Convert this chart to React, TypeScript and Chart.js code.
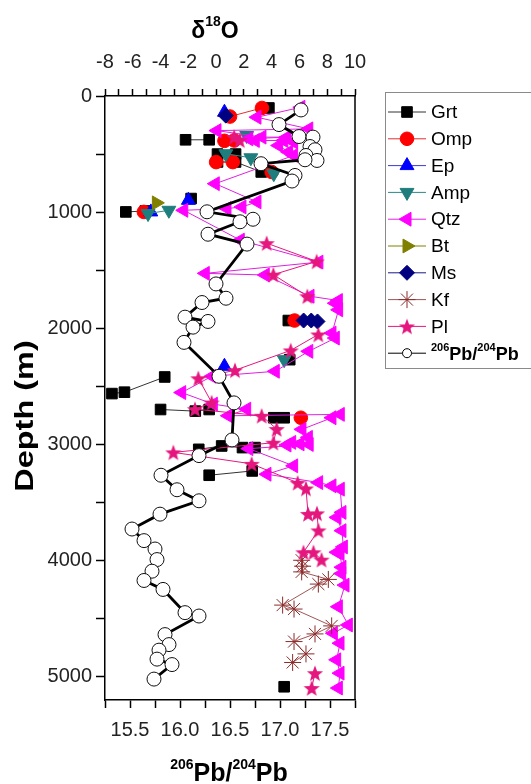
import React, { useEffect, useRef } from 'react';
import { Chart, registerables } from 'chart.js';
import { drawPoint } from 'chart.js/helpers';

Chart.register(...registerables);

const W = 531;
const H = 784;

// ---- axis ticks ----
const topTicks = [-8, -7, -6, -5, -4, -3, -2, -1, 0, 1, 2, 3, 4, 5, 6, 7, 8, 9, 10];
const bottomTicks = [15.25, 15.5, 15.75, 16.0, 16.25, 16.5, 16.75, 17.0, 17.25, 17.5, 17.75];
const bottomLabels = ['', '15.5', '', '16.0', '', '16.5', '', '17.0', '', '17.5', ''];
const depthTicks = [0, 500, 1000, 1500, 2000, 2500, 3000, 3500, 4000, 4500, 5000];
const depthLabels = ['0', '', '1000', '', '2000', '', '3000', '', '4000', '', '5000'];

// ---- data (δ18O values vs depth in m; null = break in line) ----
const grtO = [3.8, null, -2.2, -0.5, null, 0.1, 1.4, null, 0.1, 1.4, 3.25, null, -1.8, null, -6.5, -5.1, null, 5.2, null, 5.3, null, -3.7, -6.6, -7.5, null, -4.0, -1.5, -0.5, null, 4.15, 4.9, null, -1.25, 0.4, 1.9, 2.8, null, 2.6, -0.5, null, 4.9];
const grtDepth = [103, null, 377, 377, null, 500, 500, null, 568, 568, 654, null, 883, null, 998, 990, null, 1933, null, 2270, null, 2419, 2550, 2562, null, 2699, 2713, 2699, null, 2770, 2770, null, 3042, 3013, 3027, 3027, null, 3228, 3265, null, 5086];

const ompO = [3.3, 1.0, null, 0.6, 1.3, null, 0.0, 1.2, null, 4.0, null, -5.2, null, 5.65, null, 6.1];
const ompDepth = [103, 177, null, 386, 383, null, 569, 569, null, 654, null, 998, null, 1933, null, 2770];

const epO = [0.6, null, -2.0, null, -4.7, null, 0.6];
const epDepth = [140, null, 898, null, 998, null, 2327];

const ampO = [2.2, null, 0.7, 2.5, null, 4.15, null, -3.4, -4.9, null, 4.9];
const ampDepth = [340, null, 497, 532, null, 669, null, 984, 1012, null, 2270];

const qtzO = [6.1, 2.94, 6.67, 0.06, 3.30, 5.10, 2.35, 2.82, 4.87, 5.58, 4.50, 5.22, 5.58, -0.06, 2.94, 1.86, 0.78, -2.33, 1.74, 7.4, -0.78, 3.54, 6.76, 8.80, 8.58, 8.82, 8.34, 8.58, 6.67, 4.26, -0.30, -2.48, -0.20, 2.20, 0.88, 8.94, 8.34, 6.18, 6.64, 5.44, 6.04, 5.1, 6.7, 2.35, 5.58, 3.66, 7.38, 8.34, 8.94, 9.06, 8.70, 9.06, 9.16, 8.70, 8.92, 9.06, 9.04, 9.28, 8.80, 9.52, 8.44, 8.92, 8.68, 8.92, 8.80];
const qtzDepth = [97, 183, 283, 298, 354, 354, 369, 383, 383, 397, 426, 483, 512, 755, 912, 955, 969, 984, 1241, 1430, 1527, 1541, 1724, 1761, 1784, 1841, 2041, 2084, 2198, 2370, 2413, 2553, 2653, 2696, 2753, 2741, 2770, 2870, 2939, 2982, 2995, 3005, 3000, 3036, 3184, 3256, 3328, 3356, 3385, 3585, 3628, 3742, 3882, 3928, 3940, 4057, 4111, 4211, 4397, 4554, 4625, 4711, 4854, 4969, 5097];

const btO = [-4.3];
const btDepth = [920];

const msO = [0.7, null, 6.3, 6.85, 7.3];
const msDepth = [169, null, 1933, 1933, 1941];

const kfO = [6.16, 6.23, 6.16, 8.08, 7.36, 4.79, 5.61, 8.32, 7.12, 5.61, 6.47, 5.51];
const kfDepth = [3997, 4048, 4097, 4162, 4202, 4383, 4417, 4562, 4631, 4697, 4803, 4877];

const plO = [1.3, 1.7, null, 3.64, 7.24, 4.12, 6.57, null, 7.36, 5.37, 1.36, -1.28, -0.32, -1.52, 3.28, 4.36, 4.12, -3.08, 2.56, 5.87, 6.47, 6.62, 7.26, 7.37, 6.29, 7.01, 7.59, null, 7.12, 6.88];
const plDepth = [352, 380, null, 1267, 1424, 1538, 1724, null, 2053, 2190, 2361, 2430, 2639, 2696, 2753, 2867, 2985, 3068, 3167, 3330, 3379, 3598, 3593, 3740, 3928, 3928, 3992, null, 4969, 5097];

// 206Pb/204Pb vs depth
const pbRatio = [17.21, 16.99, 17.19, 17.33, 17.30, 17.35, 17.26, 17.37, 17.25, 16.81, 17.15, 17.12, 16.27, 16.73, 16.60, 16.28, 16.67, 16.36, 16.46, 16.22, 16.05, 16.28, 16.13, 16.04, 16.39, 16.54, 16.52, 16.19, 15.81, 15.97, 16.19, 15.80, 15.52, 15.64, 15.75, 15.77, 15.72, 15.64, 15.83, 16.05, 16.19, 15.85, 15.89, 15.79, 15.77, 15.92, 15.74];
const pbDepth = [120, 246, 349, 354, 435, 463, 512, 555, 549, 583, 684, 732, 997, 1061, 1083, 1190, 1275, 1618, 1741, 1778, 1904, 1941, 1990, 2121, 2413, 2642, 2961, 3096, 3265, 3390, 3485, 3600, 3728, 3828, 3900, 3991, 4091, 4171, 4248, 4448, 4477, 4637, 4723, 4771, 4848, 4895, 5020];

const NARROW = '"Liberation Sans Narrow", "Liberation Sans", Arial, sans-serif';
const SANS = '"Liberation Sans", Arial, sans-serif';
const PL_COLOR = '#e5177e';

function toPoints(xs: (number | null)[], ys: (number | null)[]) {
  return xs.map((x, i) => ({ x, y: ys[i] }));
}

function makeStar(color: string) {
  const c = document.createElement('canvas');
  c.width = 18;
  c.height = 18;
  const g = c.getContext('2d')!;
  g.fillStyle = color;
  g.beginPath();
  for (let i = 0; i < 10; i++) {
    const r = i % 2 === 0 ? 8.5 : 3.6;
    const a = -Math.PI / 2 + (i * Math.PI) / 5;
    const px = 9 + r * Math.cos(a);
    const py = 9.8 + r * Math.sin(a);
    if (i === 0) g.moveTo(px, py);
    else g.lineTo(px, py);
  }
  g.closePath();
  g.fill();
  return c;
}

type Part = { t: string; size: number; dy: number };
function drawRich(ctx: CanvasRenderingContext2D, parts: Part[], cx: number, baseline: number) {
  let total = 0;
  for (const p of parts) {
    ctx.font = `bold ${p.size}px ${SANS}`;
    total += ctx.measureText(p.t).width;
  }
  let x = cx - total / 2;
  ctx.textAlign = 'left';
  ctx.textBaseline = 'alphabetic';
  for (const p of parts) {
    ctx.font = `bold ${p.size}px ${SANS}`;
    ctx.fillText(p.t, x, baseline + p.dy);
    x += ctx.measureText(p.t).width;
  }
}

export default function App() {
  const ref = useRef<HTMLCanvasElement>(null);

  useEffect(() => {
    const canvas = ref.current!;
    const star = makeStar(PL_COLOR);

    const series = [
      { label: 'Grt', xs: grtO, ys: grtDepth, style: 'rect', rot: 0, r: 7.5, fill: '#000000', stroke: '#000000', line: '#333333', lw: 1, bw: 1 },
      { label: 'Omp', xs: ompO, ys: ompDepth, style: 'circle', rot: 0, r: 6.8, fill: '#ff0000', stroke: '#ff0000', line: '#e03030', lw: 1, bw: 1 },
      { label: 'Ep', xs: epO, ys: epDepth, style: 'triangle', rot: 0, r: 8, fill: '#0000ff', stroke: '#0000ff', line: '#3a3ad0', lw: 1, bw: 1 },
      { label: 'Amp', xs: ampO, ys: ampDepth, style: 'triangle', rot: 180, r: 8, fill: '#1e7e7e', stroke: '#1e7e7e', line: '#2a8a8a', lw: 1, bw: 1 },
      { label: 'Qtz', xs: qtzO, ys: qtzDepth, style: 'triangle', rot: -90, r: 8, fill: '#ff00ff', stroke: '#ff00ff', line: '#e020e0', lw: 1, bw: 1 },
      { label: 'Bt', xs: btO, ys: btDepth, style: 'triangle', rot: 90, r: 8, fill: '#808000', stroke: '#808000', line: '#808000', lw: 1, bw: 1 },
      { label: 'Ms', xs: msO, ys: msDepth, style: 'rectRot', rot: 0, r: 7.5, fill: '#000080', stroke: '#000080', line: '#1a1a8a', lw: 1, bw: 1 },
      { label: 'Kf', xs: kfO, ys: kfDepth, style: 'star', rot: 0, r: 8.5, fill: '#7a1515', stroke: '#8b2a2a', line: '#a05555', lw: 1, bw: 1 },
      { label: 'Pl', xs: plO, ys: plDepth, style: star as any, rot: 0, r: 8, fill: PL_COLOR, stroke: PL_COLOR, line: PL_COLOR, lw: 1, bw: 1 },
    ];

    const datasets: any[] = series.map((s, i) => ({
      label: s.label,
      data: toPoints(s.xs, s.ys),
      xAxisID: 'x2',
      yAxisID: 'y',
      order: 10 - i,
      showLine: true,
      borderColor: s.line,
      borderWidth: s.lw,
      backgroundColor: s.fill,
      pointStyle: s.style,
      pointRotation: s.rot,
      pointRadius: s.r,
      pointBackgroundColor: s.fill,
      pointBorderColor: s.stroke,
      pointBorderWidth: s.bw,
      tension: 0,
      spanGaps: false,
    }));

    datasets.push({
      label: 'Pb',
      data: toPoints(pbRatio, pbDepth),
      xAxisID: 'x',
      yAxisID: 'y',
      order: 0,
      showLine: true,
      borderColor: '#000000',
      borderWidth: 2.8,
      pointStyle: 'circle',
      pointRadius: 7,
      pointBackgroundColor: '#ffffff',
      pointBorderColor: '#111111',
      pointBorderWidth: 1,
      tension: 0,
    });

    const tickFont = { family: NARROW, size: 20 };

    const framePlugin = {
      id: 'frame',
      beforeDatasetsDraw(chart: any) {
        const { ctx, chartArea: a } = chart;
        ctx.save();
        ctx.strokeStyle = '#000';
        ctx.lineWidth = 1.5;
        ctx.beginPath();
        ctx.moveTo(a.right, a.top);
        ctx.lineTo(a.right, a.bottom);
        ctx.stroke();
        ctx.restore();
      },
    };

    const annotatePlugin = {
      id: 'annot',
      afterDraw(chart: any) {
        const ctx: CanvasRenderingContext2D = chart.ctx;
        ctx.save();
        ctx.fillStyle = '#000';
        // top title δ18O
        drawRich(ctx, [
          { t: 'δ', size: 23, dy: 0 },
          { t: '18', size: 14, dy: -12 },
          { t: 'O', size: 23, dy: 0 },
        ], 215, 38);
        // bottom title 206Pb/204Pb
        drawRich(ctx, [
          { t: '206', size: 14, dy: -12 },
          { t: 'Pb/', size: 25, dy: 0 },
          { t: '204', size: 14, dy: -12 },
          { t: 'Pb', size: 25, dy: 0 },
        ], 229, 781);
        // left title (stretched along its length like the reference)
        ctx.save();
        ctx.translate(33, 416);
        ctx.rotate(-Math.PI / 2);
        ctx.scale(1.3, 1);
        ctx.textAlign = 'center';
        ctx.textBaseline = 'alphabetic';
        ctx.font = `bold 25px ${SANS}`;
        ctx.fillText('Depth (m)', 0, 0);
        ctx.restore();

        // legend
        const bx = 385.5, by = 92.5, bw = 170, bh = 276;
        ctx.strokeStyle = '#8a8a8a';
        ctx.lineWidth = 1;
        ctx.strokeRect(bx, by, bw, bh);
        const rowY0 = 112;
        const rowDy = 26.8;
        series.forEach((s, i) => {
          const y = rowY0 + i * rowDy;
          ctx.strokeStyle = s.line;
          ctx.lineWidth = 1;
          ctx.beginPath();
          ctx.moveTo(388, y);
          ctx.lineTo(426, y);
          ctx.stroke();
          ctx.fillStyle = s.fill;
          ctx.strokeStyle = s.stroke;
          ctx.lineWidth = s.bw;
          drawPoint(ctx, { pointStyle: s.style, rotation: s.rot, radius: s.r, borderWidth: s.bw } as any, 407, y);
          ctx.fillStyle = '#000';
          ctx.font = `19px ${NARROW}`;
          ctx.textAlign = 'left';
          ctx.textBaseline = 'middle';
          ctx.fillText(s.label, 431, y + 1);
        });
        const yPb = rowY0 + 9 * rowDy;
        ctx.strokeStyle = '#000';
        ctx.lineWidth = 1;
        ctx.beginPath();
        ctx.moveTo(388, yPb);
        ctx.lineTo(402, yPb);
        ctx.moveTo(412, yPb);
        ctx.lineTo(426, yPb);
        ctx.stroke();
        ctx.fillStyle = '#fff';
        drawPoint(ctx, { pointStyle: 'circle', rotation: 0, radius: 4.5, borderWidth: 1 } as any, 407, yPb);
        ctx.fillStyle = '#000';
        const parts: Part[] = [
          { t: '206', size: 11, dy: -9 },
          { t: 'Pb/', size: 18, dy: 0 },
          { t: '204', size: 11, dy: -9 },
          { t: 'Pb', size: 18, dy: 0 },
        ];
        let tw = 0;
        for (const p of parts) {
          ctx.font = `bold ${p.size}px ${SANS}`;
          tw += ctx.measureText(p.t).width;
        }
        drawRich(ctx, parts, 431 + tw / 2, yPb + 7);
        ctx.restore();
      },
    };

    const chart = new Chart(canvas, {
      type: 'line',
      data: { datasets },
      options: {
        responsive: false,
        animation: false,
        devicePixelRatio: 1,
        layout: { padding: { left: 0, right: 176, top: 0, bottom: 0 } },
        plugins: { legend: { display: false }, tooltip: { enabled: false } },
        scales: {
          x: {
            type: 'linear',
            position: 'bottom',
            min: 15.25,
            max: 17.75,
            afterBuildTicks: (s: any) => {
              s.ticks = bottomTicks.map((v) => ({ value: v }));
            },
            afterFit: (s: any) => {
              s.height = 84;
            },
            ticks: {
              autoSkip: false,
              maxRotation: 0,
              padding: 10,
              font: tickFont,
              color: '#222',
              callback: (_v: any, i: number) => bottomLabels[i],
            },
            grid: { drawOnChartArea: false, drawTicks: true, tickLength: 8, color: '#000', tickWidth: 1.5 },
            border: { display: true, color: '#000', width: 1.5 },
          },
          x2: {
            type: 'linear',
            position: 'top',
            min: -8,
            max: 10,
            afterBuildTicks: (s: any) => {
              s.ticks = topTicks.map((v) => ({ value: v }));
            },
            afterFit: (s: any) => {
              s.height = 96;
            },
            ticks: {
              autoSkip: false,
              maxRotation: 0,
              padding: 15,
              font: tickFont,
              color: '#222',
              callback: (_v: any, i: number) => (topTicks[i] % 2 === 0 ? String(topTicks[i]) : ''),
            },
            grid: { drawOnChartArea: false, drawTicks: true, tickLength: 7, color: '#000', tickWidth: 1.5 },
            border: { display: true, color: '#000', width: 1.5 },
          },
          y: {
            type: 'linear',
            position: 'left',
            reverse: true,
            min: 0,
            max: 5200,
            afterBuildTicks: (s: any) => {
              s.ticks = depthTicks.map((v) => ({ value: v }));
            },
            afterFit: (s: any) => {
              s.width = 105;
            },
            ticks: {
              autoSkip: false,
              padding: 4,
              font: tickFont,
              color: '#222',
              callback: (_v: any, i: number) => depthLabels[i],
            },
            grid: { drawOnChartArea: false, drawTicks: true, tickLength: 9, color: '#000', tickWidth: 1.5 },
            border: { display: true, color: '#000', width: 1.5 },
          },
        },
      } as any,
      plugins: [framePlugin, annotatePlugin],
    });

    return () => chart.destroy();
  }, []);

  return (
    <div style={{ position: 'absolute', left: 0, top: 0, width: W, height: H, background: '#ffffff' }}>
      <canvas ref={ref} width={W} height={H} style={{ width: W, height: H, display: 'block' }} />
    </div>
  );
}
